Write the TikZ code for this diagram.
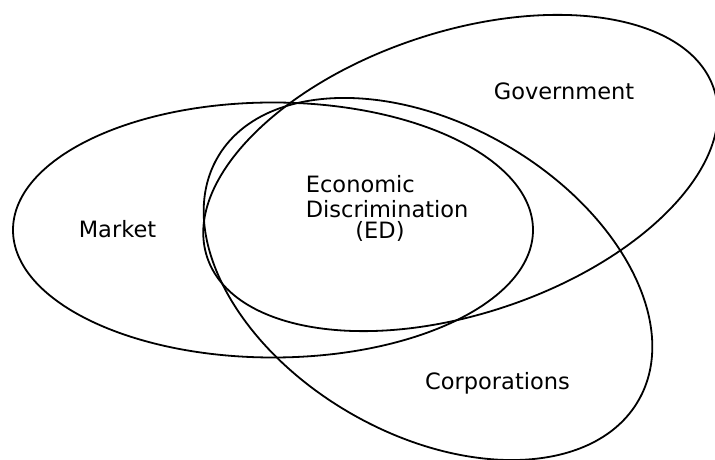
\documentclass[tikz,border=0pt]{standalone}
\usepackage{fontspec}
\setmainfont{DejaVu Sans}
\usetikzlibrary{positioning}

\begin{document}
\begin{tikzpicture}[x=1pt, y=1pt, line width=1.8pt,
		setname/.style={font=\fontsize{22.5}{25}\selectfont, inner sep=0pt, anchor=base}]
	\useasboundingbox (0, 0) rectangle (715, 460);

	\draw (273, 230) ellipse [x radius=260, y radius=127.5];
	\draw[rotate around={18.4:(460.5, 287)}] (460.5, 287) ellipse [x radius=267, y radius=141];
	\draw[rotate around={-30:(428, 181)}] (428, 181) ellipse [x radius=243, y radius=155];

	\node[setname] (market) at (117.5, 222) {Market};
	\node[setname] (government) at (564, 360.5) {Government};
	\node[setname] (corporations) at (497.5, 70) {Corporations};
	\node[setname, anchor=base west] (economic) at (305, 267) {Economic};
	\node[setname, anchor=base west] (discrimination) at (305, 242) {Discrimination};
	\node[setname] (ed) at (380, 221) {(ED)};
\end{tikzpicture}
\end{document}
